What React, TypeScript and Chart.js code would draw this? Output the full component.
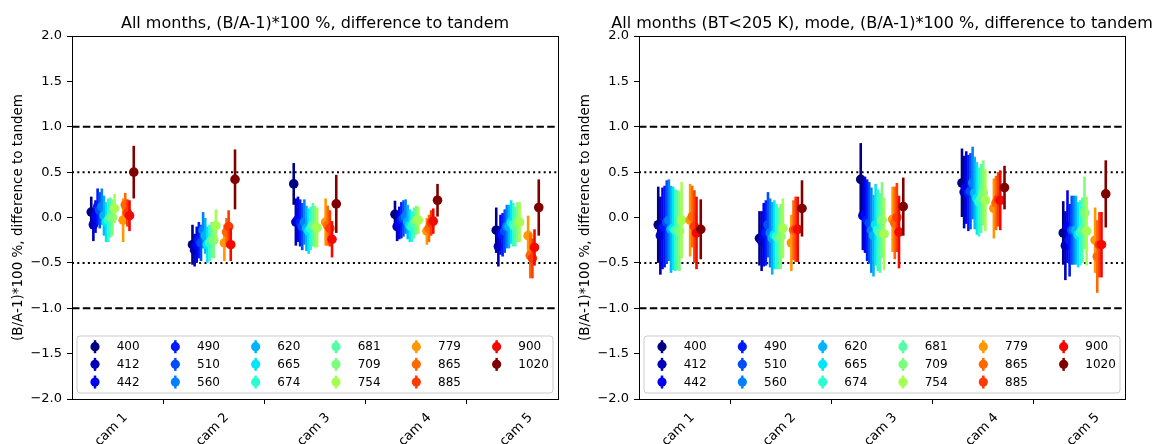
import React, { useEffect, useRef } from 'react';
import { Chart, registerables } from 'chart.js';

Chart.register(...registerables);

// ---------------- data ----------------
const cameraLabels = ['cam 1', 'cam 2', 'cam 3', 'cam 4', 'cam 5'];
const bandLabels = ['400', '412', '442', '490', '510', '560', '620', '665', '674', '681', '709', '754', '779', '865', '885', '900', '1020'];
// position of each band among the 21 OLCI bands (used for colour and small x offset)
const bandIndex = [0, 1, 2, 3, 4, 5, 6, 7, 8, 9, 10, 11, 15, 16, 17, 18, 20];
const yTickValues = [-2, -1.5, -1, -0.5, 0, 0.5, 1, 1.5, 2];
const dashedLevels = [-1, 1];
const dottedLevels = [-0.5, 0.5];

const titleLeft = 'All months, (B/A-1)*100 %, difference to tandem';
const titleRight = 'All months (BT<205 K), mode, (B/A-1)*100 %, difference to tandem';
const yAxisLabel = '(B/A-1)*100 %, difference to tandem';

// left panel: mean per camera (rows) and band (columns)
const allMonthsMean = [
  [0.06, -0.08, 0.01, 0.12, 0.08, 0.12, 0.02, -0.05, -0.03, 0.0, 0.0, 0.1, -0.03, 0.14, 0.05, 0.02, 0.5],
  [-0.3, -0.36, -0.3, -0.25, -0.28, -0.14, -0.2, -0.3, -0.28, -0.25, -0.25, -0.09, -0.28, -0.16, -0.1, -0.3, 0.42],
  [0.37, -0.05, -0.02, -0.06, -0.1, -0.05, -0.12, -0.15, -0.12, -0.08, -0.1, -0.11, -0.05, -0.09, -0.12, -0.24, 0.15],
  [0.035, -0.1, -0.06, -0.03, -0.01, 0.01, -0.05, -0.09, -0.1, -0.06, -0.03, -0.03, -0.15, -0.12, -0.06, -0.04, 0.19],
  [-0.14, -0.32, -0.19, -0.19, -0.15, -0.1, -0.1, -0.05, -0.08, -0.1, -0.05, -0.05, -0.2, -0.42, -0.45, -0.33, 0.11],
];
const allMonthsErr = [
  [0.17, 0.18, 0.18, 0.2, 0.2, 0.2, 0.22, 0.22, 0.24, 0.22, 0.2, 0.16, 0.24, 0.13, 0.15, 0.17, 0.29],
  [0.22, 0.18, 0.2, 0.2, 0.2, 0.2, 0.2, 0.2, 0.2, 0.2, 0.2, 0.18, 0.2, 0.16, 0.18, 0.18, 0.33],
  [0.23, 0.26, 0.25, 0.26, 0.26, 0.25, 0.25, 0.25, 0.24, 0.24, 0.23, 0.22, 0.26, 0.22, 0.2, 0.2, 0.32],
  [0.15, 0.16, 0.18, 0.2, 0.2, 0.19, 0.19, 0.18, 0.17, 0.17, 0.16, 0.15, 0.15, 0.15, 0.14, 0.14, 0.18],
  [0.25, 0.22, 0.22, 0.24, 0.24, 0.24, 0.24, 0.24, 0.24, 0.22, 0.22, 0.22, 0.22, 0.25, 0.22, 0.2, 0.31],
];

// right panel: mode for BT < 205 K
const coldModeMean = [
  [-0.08, -0.2, -0.12, -0.1, -0.05, -0.03, -0.13, -0.12, -0.14, -0.14, -0.15, -0.03, -0.03, 0.01, -0.1, -0.17, -0.13],
  [-0.23, -0.26, -0.19, -0.17, -0.08, -0.17, -0.23, -0.19, -0.21, -0.23, -0.21, -0.12, -0.28, -0.14, -0.13, -0.13, 0.1],
  [0.42, 0.02, 0.03, -0.03, -0.06, -0.14, -0.2, -0.08, -0.14, -0.17, -0.03, -0.18, -0.02, -0.06, 0.0, -0.16, 0.12],
  [0.38, 0.28, 0.33, 0.27, 0.29, 0.38, 0.27, 0.21, 0.17, 0.21, 0.27, 0.19, 0.1, 0.16, 0.2, 0.19, 0.33],
  [-0.17, -0.31, -0.1, -0.25, -0.14, -0.14, -0.14, -0.19, -0.17, -0.14, 0.05, -0.15, -0.25, -0.43, -0.3, -0.3, 0.26],
];
const coldModeErr = [
  [0.42, 0.43, 0.45, 0.45, 0.46, 0.45, 0.48, 0.46, 0.45, 0.44, 0.44, 0.42, 0.4, 0.34, 0.4, 0.4, 0.33],
  [0.3, 0.33, 0.35, 0.36, 0.36, 0.38, 0.4, 0.38, 0.36, 0.34, 0.36, 0.33, 0.31, 0.33, 0.36, 0.36, 0.31],
  [0.4, 0.38, 0.42, 0.45, 0.45, 0.47, 0.45, 0.45, 0.45, 0.44, 0.42, 0.4, 0.36, 0.4, 0.38, 0.4, 0.32],
  [0.38, 0.4, 0.4, 0.42, 0.42, 0.4, 0.4, 0.4, 0.38, 0.38, 0.36, 0.34, 0.33, 0.3, 0.3, 0.33, 0.24],
  [0.35, 0.38, 0.4, 0.4, 0.38, 0.38, 0.38, 0.36, 0.36, 0.36, 0.4, 0.38, 0.36, 0.4, 0.36, 0.36, 0.37],
];

// ---------------- styling helpers ----------------
const X_MIN = 0.6;
const X_MAX = 5.4;
const OFFSET_STEP = 0.021;
const FONT = "'DejaVu Sans', 'Liberation Sans', sans-serif";

function channel(t: number, pts: number[][]): number {
  for (let i = 1; i < pts.length; i++) {
    if (t <= pts[i][0]) {
      const [x0, y0] = pts[i - 1];
      const [x1, y1] = pts[i];
      return y0 + ((y1 - y0) * (t - x0)) / (x1 - x0);
    }
  }
  return pts[pts.length - 1][1];
}

function jet(t: number): string {
  const r = channel(t, [[0, 0], [0.35, 0], [0.66, 1], [0.89, 1], [1, 0.5]]);
  const g = channel(t, [[0, 0], [0.125, 0], [0.375, 1], [0.64, 1], [0.91, 0], [1, 0]]);
  const b = channel(t, [[0, 0.5], [0.11, 1], [0.34, 1], [0.65, 0], [1, 0]]);
  return `rgb(${Math.round(r * 255)}, ${Math.round(g * 255)}, ${Math.round(b * 255)})`;
}

const bandColors = bandIndex.map((i) => jet(i / 20));

const fmtTick = (v: number) => (v < 0 ? '\u2212' : '') + Math.abs(v).toFixed(1);

const framePlugin = {
  id: 'frameAndLegend',
  afterDatasetsDraw(chart: any) {
    const { ctx, chartArea: a } = chart;
    ctx.save();
    // full axes frame
    ctx.strokeStyle = '#000';
    ctx.lineWidth = 1;
    ctx.strokeRect(Math.round(a.left) + 0.5, Math.round(a.top) + 0.5, Math.round(a.right - a.left), Math.round(a.bottom - a.top));

    // legend box
    const x0 = a.left + 5;
    const x1 = a.right - 5;
    const y0 = a.bottom - 63;
    const y1 = a.bottom - 6;
    const r = 3;
    ctx.beginPath();
    ctx.moveTo(x0 + r, y0);
    ctx.lineTo(x1 - r, y0);
    ctx.arcTo(x1, y0, x1, y0 + r, r);
    ctx.lineTo(x1, y1 - r);
    ctx.arcTo(x1, y1, x1 - r, y1, r);
    ctx.lineTo(x0 + r, y1);
    ctx.arcTo(x0, y1, x0, y1 - r, r);
    ctx.lineTo(x0, y0 + r);
    ctx.arcTo(x0, y0, x0 + r, y0, r);
    ctx.closePath();
    ctx.fillStyle = 'rgba(255,255,255,0.8)';
    ctx.fill();
    ctx.strokeStyle = '#cccccc';
    ctx.lineWidth = 1;
    ctx.stroke();

    ctx.font = `12px ${FONT}`;
    ctx.textBaseline = 'middle';
    ctx.textAlign = 'left';
    bandLabels.forEach((lab, k) => {
      const col = Math.floor(k / 3);
      const row = k % 3;
      const mx = a.left + 23 + col * 80.33;
      const my = a.bottom - 52.3 + row * 17.67;
      ctx.strokeStyle = bandColors[k];
      ctx.lineWidth = 2.5;
      ctx.beginPath();
      ctx.moveTo(mx, my - 6.5);
      ctx.lineTo(mx, my + 6.5);
      ctx.stroke();
      ctx.fillStyle = bandColors[k];
      ctx.beginPath();
      ctx.arc(mx, my, 4.6, 0, Math.PI * 2);
      ctx.fill();
      ctx.fillStyle = '#000';
      ctx.fillText(lab, mx + 21.7, my + 0.5);
    });
    ctx.restore();
  },
  afterDraw(chart: any) {
    const { ctx, chartArea: a } = chart;
    const title = chart.options.plugins.panelTitle?.text ?? '';
    ctx.save();
    ctx.font = `16px ${FONT}`;
    ctx.fillStyle = '#000';
    ctx.textAlign = 'center';
    ctx.textBaseline = 'alphabetic';
    ctx.fillText(title, (a.left + a.right) / 2, 28);
    ctx.restore();
  },
};

function Panel({ title, means, errs, left, width }: { title: string; means: number[][]; errs: number[][]; left: number; width: number }) {
  const ref = useRef<HTMLCanvasElement | null>(null);

  useEffect(() => {
    if (!ref.current) return;
    const datasets: any[] = [];
    dashedLevels.forEach((v) =>
      datasets.push({
        type: 'line',
        data: [{ x: X_MIN, y: v }, { x: X_MAX, y: v }],
        borderColor: '#000',
        borderWidth: 2,
        borderDash: [7.5, 3.3],
        borderCapStyle: 'butt',
        pointRadius: 0,
        order: 5000,
      })
    );
    dottedLevels.forEach((v) =>
      datasets.push({
        type: 'line',
        data: [{ x: X_MIN, y: v }, { x: X_MAX, y: v }],
        borderColor: '#000',
        borderWidth: 2,
        borderDash: [2, 3.3],
        borderCapStyle: 'butt',
        pointRadius: 0,
        order: 5000,
      })
    );
    bandLabels.forEach((lab, i) => {
      const off = (bandIndex[i] - 10) * OFFSET_STEP;
      datasets.push({
        type: 'bar',
        label: lab + ' err',
        data: cameraLabels.map((_, k) => ({ x: k + 1 + off, y: [means[k][i] - errs[k][i], means[k][i] + errs[k][i]] })),
        backgroundColor: bandColors[i],
        borderWidth: 0,
        grouped: false,
        barPercentage: 20,
        maxBarThickness: 2.6,
        order: 1000 - 2 * i,
      });
      datasets.push({
        type: 'scatter',
        label: lab,
        data: cameraLabels.map((_, k) => ({ x: k + 1 + off, y: means[k][i] })),
        backgroundColor: bandColors[i],
        pointBackgroundColor: bandColors[i],
        pointBorderWidth: 0,
        pointRadius: 4.8,
        showLine: false,
        order: 999 - 2 * i,
      });
    });

    const chart = new Chart(ref.current, {
      type: 'scatter',
      data: { datasets },
      options: {
        animation: false,
        responsive: false,
        events: [],
        layout: { padding: { left: 0, right: width - 558, top: 36, bottom: 0 } },
        plugins: {
          legend: { display: false },
          tooltip: { enabled: false },
          title: { display: false },
          panelTitle: { text: title },
        } as any,
        scales: {
          x: {
            type: 'linear',
            min: X_MIN,
            max: X_MAX,
            offset: false,
            afterBuildTicks: (scale: any) => {
              scale.ticks = cameraLabels.map((_, i) => ({ value: i + 1 }));
            },
            afterFit: (scale: any) => {
              scale.height = 45;
            },
            ticks: {
              autoSkip: false,
              minRotation: 45,
              maxRotation: 45,
              labelOffset: 13,
              padding: 6,
              color: '#000',
              font: { family: FONT, size: 13 },
              callback: (v: any) => cameraLabels[Math.round(Number(v)) - 1] ?? '',
            },
            grid: { drawOnChartArea: false, drawTicks: true, tickLength: 5, color: '#000', lineWidth: 1 },
            border: { display: true, color: '#000', width: 1 },
          },
          y: {
            type: 'linear',
            min: -2,
            max: 2,
            afterBuildTicks: (scale: any) => {
              scale.ticks = yTickValues.map((v) => ({ value: v }));
            },
            afterFit: (scale: any) => {
              scale.width = 72;
            },
            ticks: {
              autoSkip: false,
              padding: 5,
              color: '#000',
              font: { family: FONT, size: 13 },
              callback: (v: any) => fmtTick(Number(v)),
            },
            title: {
              display: true,
              text: yAxisLabel,
              color: '#000',
              font: { family: FONT, size: 13.5 },
              padding: { top: 10, bottom: 0 },
            },
            grid: { drawOnChartArea: false, drawTicks: true, tickLength: 5, color: '#000', lineWidth: 1 },
            border: { display: true, color: '#000', width: 1 },
          },
        },
      } as any,
      plugins: [framePlugin],
    });
    return () => chart.destroy();
  }, [title, means, errs, width]);

  return (
    <canvas
      ref={ref}
      width={width}
      height={444}
      style={{ position: 'absolute', left, top: 0, width, height: 444 }}
    />
  );
}

export default function App() {
  return (
    <div style={{ position: 'absolute', left: 0, top: 0, width: 1165, height: 444, background: '#fff', overflow: 'hidden' }}>
      <Panel title={titleLeft} means={allMonthsMean} errs={allMonthsErr} left={0} width={583} />
      <Panel title={titleRight} means={coldModeMean} errs={coldModeErr} left={567} width={598} />
    </div>
  );
}
